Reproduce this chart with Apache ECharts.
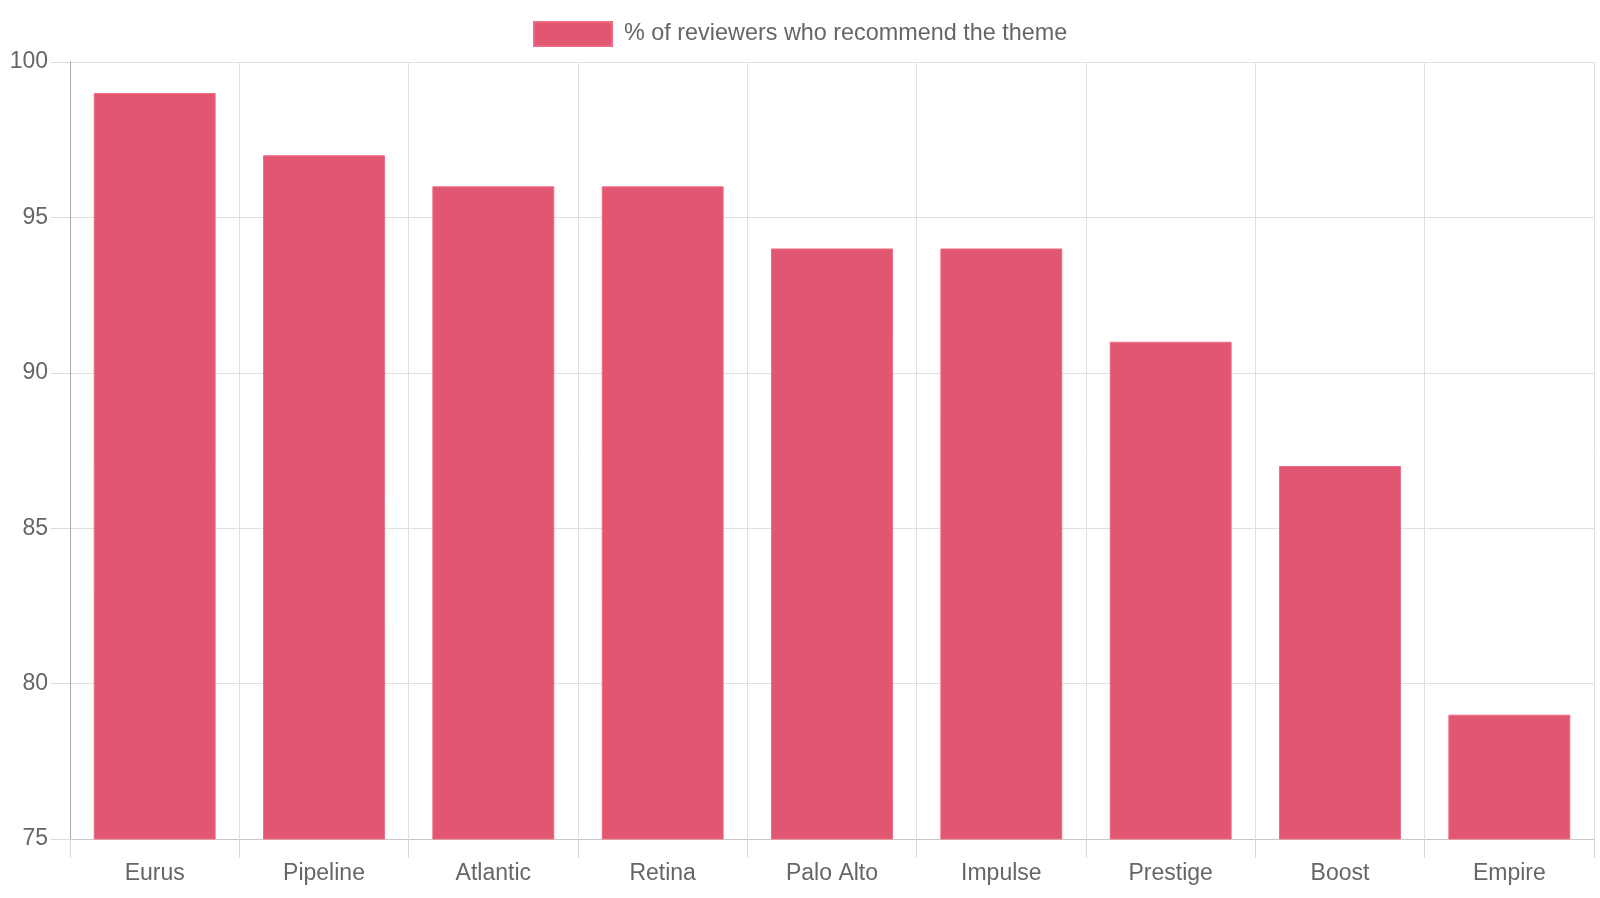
<!DOCTYPE html>
<html>
<head>
<meta charset="utf-8">
<script src="https://cdn.jsdelivr.net/npm/echarts@6/dist/echarts.min.js"></script>
<style>
  html, body { margin: 0; padding: 0; background: #fff; }
  #myChart { width: 1600px; height: 898px; }
</style>
</head>
<body>
<div id="myChart"></div>
<script>
var themes = ["Eurus", "Pipeline", "Atlantic", "Retina", "Palo Alto", "Impulse", "Prestige", "Boost", "Empire"];
var recommendPct = [99, 97, 96, 96, 94, 94, 91, 87, 79];
var seriesName = "% of reviewers who recommend the theme";

var myChart = echarts.init(document.getElementById("myChart"));
var option = {
  animation: false,
  textStyle: { fontFamily: "Liberation Sans, Arial, sans-serif" },
  legend: {
    data: [seriesName],
    left: 528,
    top: 16,
    icon: "rect",
    itemWidth: 78,
    itemHeight: 24,
    itemGap: 12,
    textStyle: { fontSize: 23.4, color: "#666", padding: [0, 0, 0, 7] }
  },
  grid: {
    left: 70,
    right: 6,
    top: 62,
    bottom: 59
  },
  xAxis: {
    type: "category",
    data: themes,
    boundaryGap: true,
    axisLine: { lineStyle: { color: "#c8c8c8", width: 1 } },
    axisTick: { show: true, interval: 0, length: 19, lineStyle: { color: "#d8d8d8" } },
    axisLabel: { fontSize: 23, color: "#666", margin: 23 },
    splitLine: { show: true, interval: 0, lineStyle: { color: "#e0e0e0" } }
  },
  yAxis: {
    type: "value",
    min: 75,
    max: 100,
    interval: 5,
    axisLine: { show: true, lineStyle: { color: "#a8a8a8" } },
    axisTick: { show: true, length: 19, lineStyle: { color: "#dcdcdc" } },
    axisLabel: { fontSize: 23, color: "#666", margin: 22, padding: [8, 0, 0, 0] },
    splitLine: { show: true, lineStyle: { color: "#e0e0e0" } }
  },
  series: [
    {
      name: seriesName,
      type: "bar",
      data: recommendPct,
      barCategoryGap: "28%",
      itemStyle: {
        color: "#e15670",
        borderColor: "#f06a85",
        borderWidth: 1
      }
    }
  ]
};
myChart.setOption(option);
</script>
</body>
</html>
